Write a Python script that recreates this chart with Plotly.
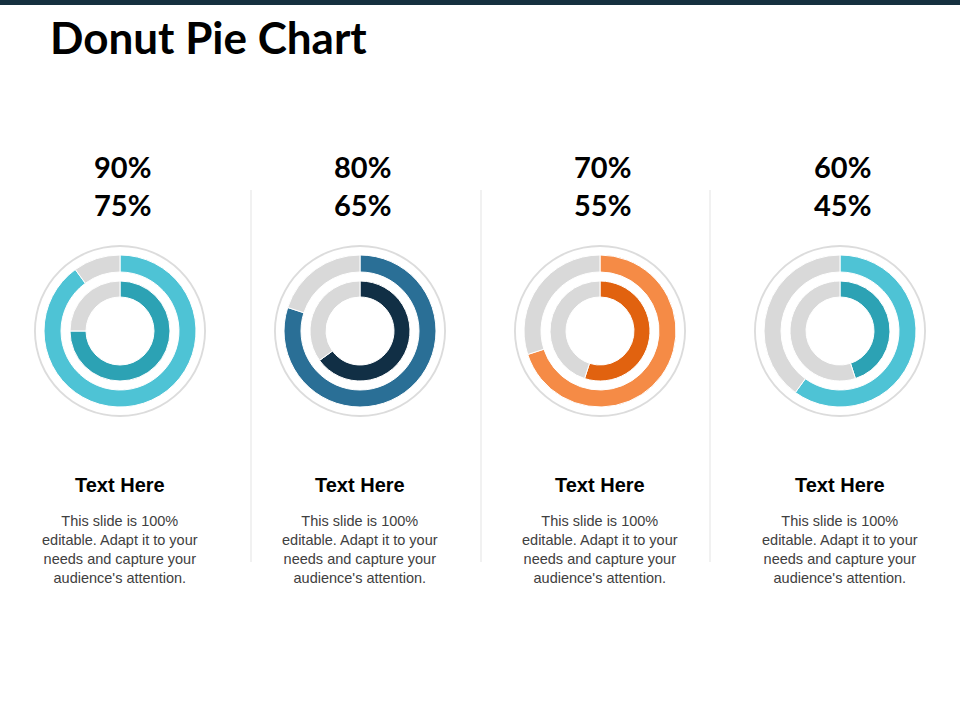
import plotly.graph_objects as go

# --- dados ---
outer_values = [90, 80, 70, 60]
inner_values = [75, 65, 55, 45]
outer_colors = ["#4EC3D5", "#2A6F96", "#F58B46", "#4EC3D5"]
inner_colors = ["#2CA2B4", "#112F45", "#E1620F", "#2CA2B4"]
headings = ["Text Here", "Text Here", "Text Here", "Text Here"]
body_text = "This slide is 100%<br>editable. Adapt it to your<br>needs and capture your<br>audience's attention."

W, H = 960, 720
GRAY = "#D9D9D9"

# centros das colunas em px
col_x = [120, 360, 600, 840]
cy = 331


def dom(cx, cy, r):
    # dominio (paper) de um quadrado de raio r centrado em (cx, cy) em px
    return dict(x=[(cx - r) / W, (cx + r) / W], y=[1 - (cy + r) / H, 1 - (cy - r) / H])


fig = go.Figure()

for i, cx in enumerate(col_x):
    # anel fino cinza externo
    fig.add_trace(go.Pie(
        values=[1], labels=["ring"], hole=0.978, sort=False,
        marker=dict(colors=["#DCDCDC"], line=dict(width=0)),
        textinfo="none", hoverinfo="skip", showlegend=False,
        domain=dom(cx, cy, 86),
    ))
    # anel externo
    fig.add_trace(go.Pie(
        values=[outer_values[i], 100 - outer_values[i]], labels=["valor", "resto"],
        hole=59 / 76, sort=False, direction="clockwise", rotation=0,
        marker=dict(colors=[outer_colors[i], GRAY], line=dict(color="white", width=1)),
        textinfo="none", showlegend=False,
        domain=dom(cx, cy, 76),
    ))
    # anel interno
    fig.add_trace(go.Pie(
        values=[inner_values[i], 100 - inner_values[i]], labels=["valor", "resto"],
        hole=34 / 50, sort=False, direction="clockwise", rotation=0,
        marker=dict(colors=[inner_colors[i], GRAY], line=dict(color="white", width=1)),
        textinfo="none", showlegend=False,
        domain=dom(cx, cy, 50),
    ))

annotations = [dict(
    text="<b>Donut Pie Chart</b>", x=48 / W, y=1 - 37 / H, xref="paper", yref="paper",
    xanchor="left", yanchor="middle", showarrow=False,
    font=dict(family="Lato", size=44, color="#000000"),
)]
for i, cx in enumerate(col_x):
    annotations.append(dict(
        text=f"<b>{outer_values[i]}%<br>{inner_values[i]}%</b>", x=(cx + 2) / W, y=1 - 186 / H,
        xref="paper", yref="paper", showarrow=False, xanchor="center", yanchor="middle",
        font=dict(family="Lato", size=29, color="#000000"),
    ))
    annotations.append(dict(
        text=f"<b>{headings[i]}</b>", x=cx / W, y=1 - 485 / H,
        xref="paper", yref="paper", showarrow=False, xanchor="center", yanchor="middle",
        font=dict(family="Liberation Sans", size=20, color="#000000"),
    ))
    annotations.append(dict(
        text=body_text, x=cx / W, y=1 - 549 / H,
        xref="paper", yref="paper", showarrow=False, xanchor="center", yanchor="middle",
        align="center", font=dict(family="Liberation Sans", size=14.5, color="#404040"),
    ))

shapes = [dict(type="rect", xref="paper", yref="paper", x0=0, x1=1, y0=1 - 5 / H, y1=1,
               fillcolor="#15303F", line=dict(width=0))]
for sx in [251, 481, 710]:
    shapes.append(dict(type="line", xref="paper", yref="paper", x0=sx / W, x1=sx / W,
                       y0=1 - 562 / H, y1=1 - 190 / H, line=dict(color="#E3E3E3", width=1)))

fig.update_layout(
    width=W, height=H,
    margin=dict(l=0, r=0, t=0, b=0),
    paper_bgcolor="white", plot_bgcolor="white",
    annotations=annotations, shapes=shapes,
    showlegend=False,
)

# tira a margem padrao do body para o grafico ocupar a janela toda
fig.write_html("out.html", config={"displayModeBar": False},
               post_script="document.body.style.margin='0';")
